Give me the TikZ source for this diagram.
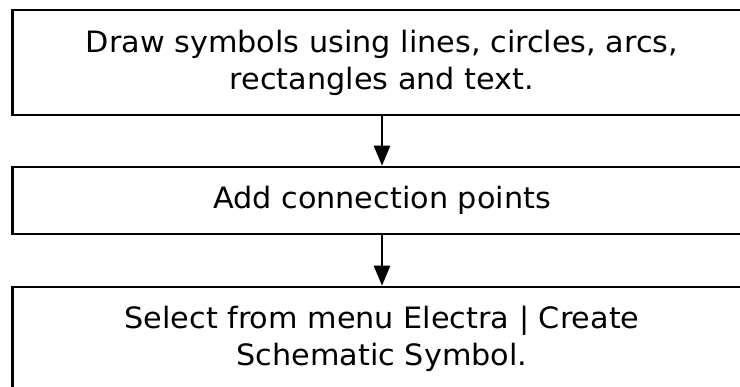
\documentclass[tikz,border=0pt]{standalone}
\usepackage{fontspec}
\setmainfont{DejaVu Sans}[FakeStretch=1.03]
\usetikzlibrary{arrows.meta}
\begin{document}
\begin{tikzpicture}[x=1pt,y=1pt,
  stepbox/.style={draw=black, line width=2.5pt, inner sep=0pt, minimum width=739pt,
    align=center, font=\fontsize{29.4}{37}\selectfont},
  flow/.style={line width=2.5pt, -{Triangle[length=20pt,width=16pt]}}]
\useasboundingbox (0,0) rectangle (740,-387);
\clip (0,0) rectangle (740,-387);
\node[stepbox, minimum height=105pt] (b1) at (382,-62.5) {Draw symbols using lines, circles, arcs,\\rectangles and text.};
\node[stepbox, minimum height=67pt] (b2) at (382,-200.5) {Add connection points};
\node[stepbox, minimum height=104pt] (b3) at (382,-339) {Select from menu Electra | Create\\Schematic Symbol.};
\draw[flow] (b1.south) -- (b2.north);
\draw[flow] (b2.south) -- (b3.north);
\end{tikzpicture}
\end{document}
